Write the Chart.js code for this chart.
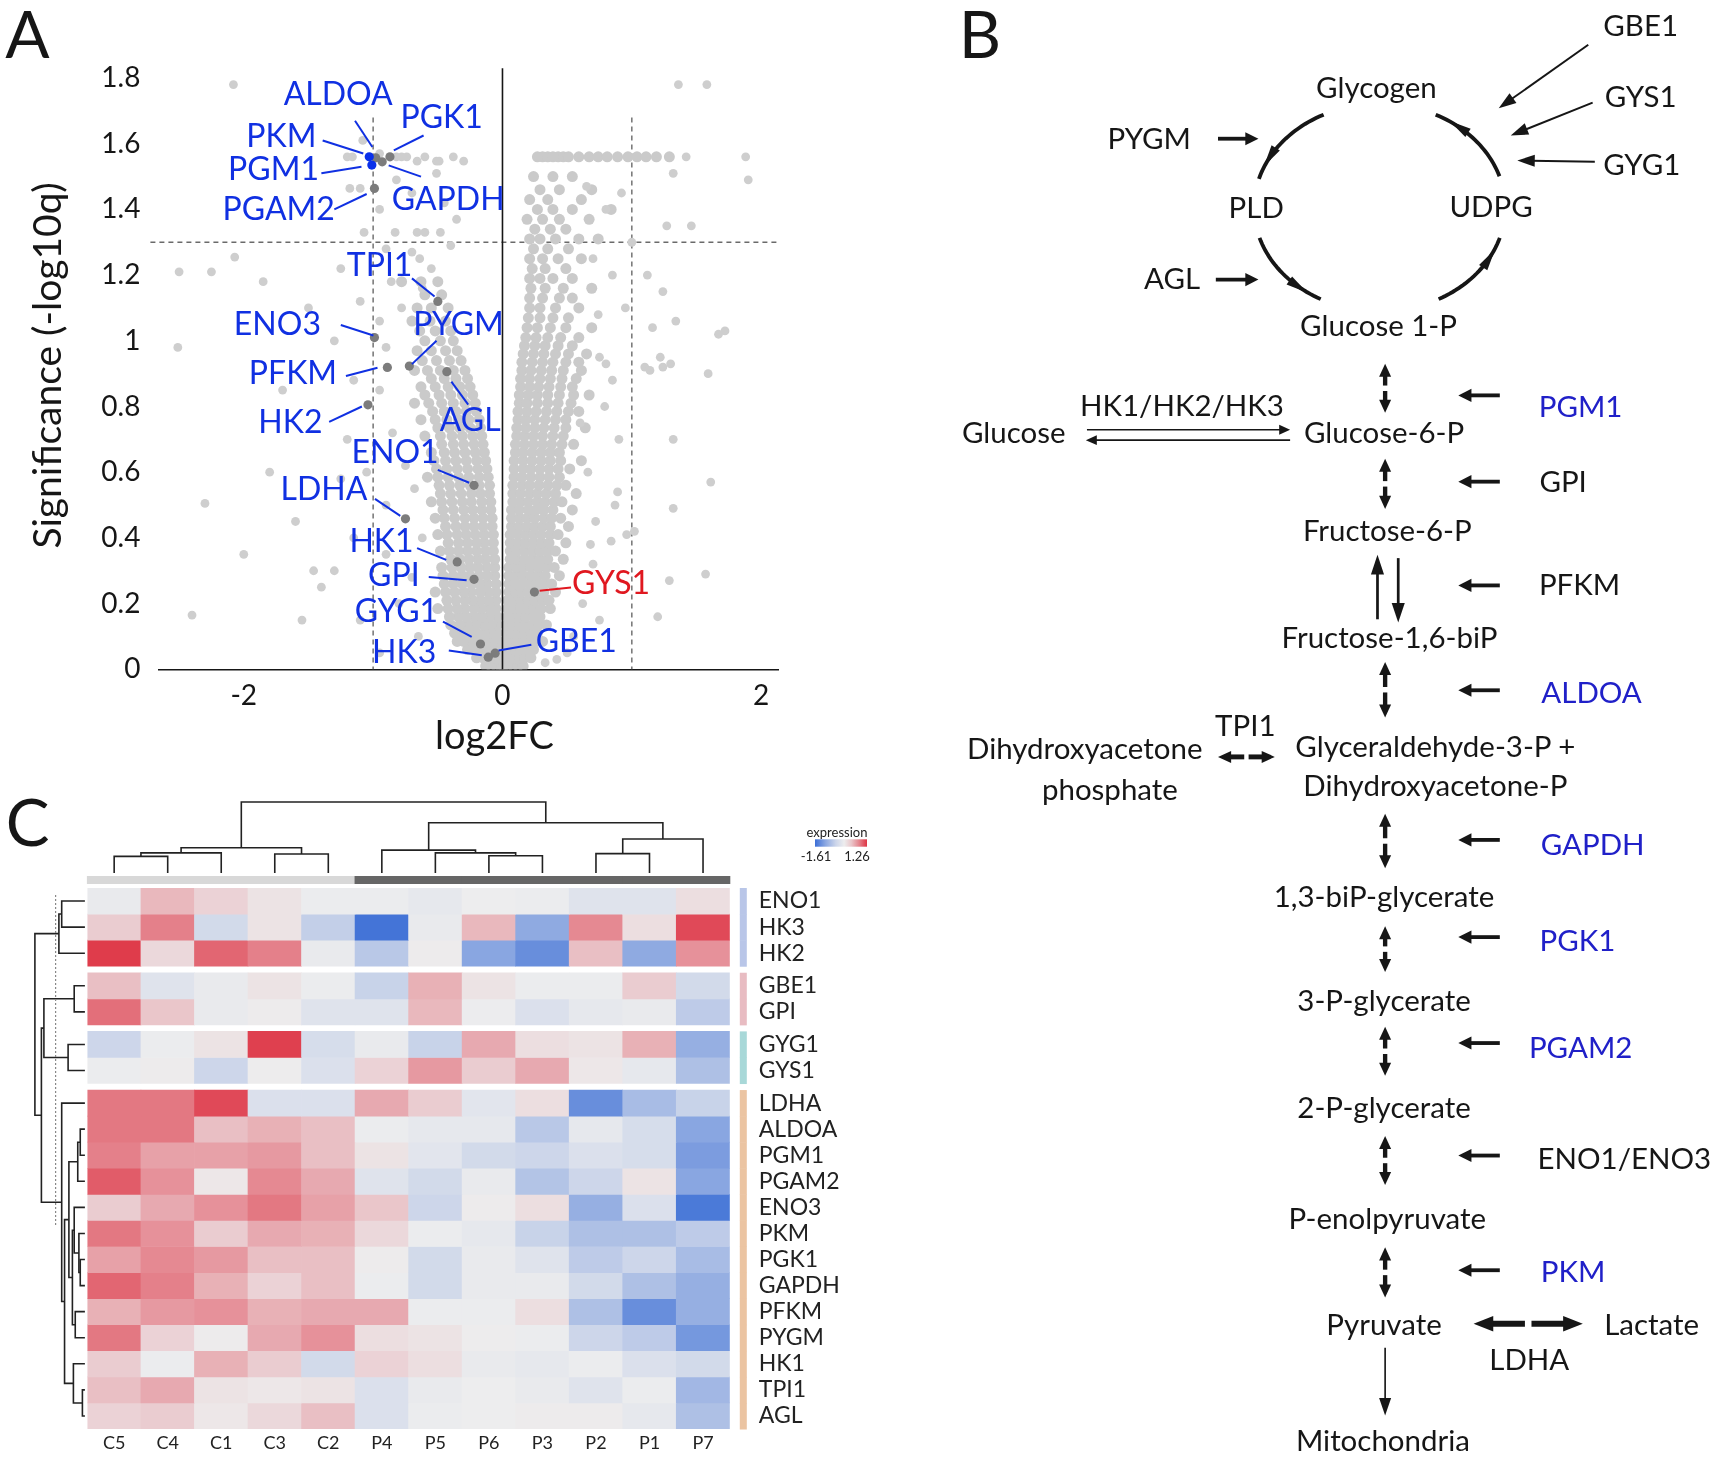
<!DOCTYPE html>
<html>
<head>
<meta charset="utf-8">
<script src="https://cdn.jsdelivr.net/npm/chart.js@4.4.0/dist/chart.umd.min.js"></script>
<style>
html, body { margin: 0; padding: 0; background: #fff; }
#page { position: relative; width: 1713px; height: 1457px; overflow: hidden; font-family: Lato, "Open Sans", sans-serif; }
canvas { position: absolute; }
#volcano { left: 0; top: 0; }
#heat { left: 0; top: 770px; }
#pathway { position: absolute; left: 0; top: 0; width: 1713px; height: 1457px; pointer-events: none; }
</style>
</head>
<body>
<div id="page">
  <canvas id="volcano" width="800" height="770"></canvas>
  <canvas id="heat" width="900" height="702"></canvas>
  <svg id="pathway" viewBox="0 0 1568 1334"></svg>
</div>
<script>
// ---------- A: volcano plot data ----------
const fcTicks = [-2, 0, 2];
const qTicks = [0, 0.2, 0.4, 0.6, 0.8, 1, 1.2, 1.4, 1.6, 1.8];
const fcCut = [-1, 1];
const qCut = 1.3;
const fcCutTop = 1.68;

// dense cloud, read row by row: [significance, [log2FC, ...]]
const leftArmRows = [
  [0.01, [-0.02, -0.05, -0.09, -0.13]],
  [0.035, [-0.02, -0.06, -0.1, -0.15, -0.2]],
  [0.06, [-0.03, -0.07, -0.12, -0.17, -0.22, -0.27]],
  [0.085, [-0.03, -0.08, -0.13, -0.18, -0.24, -0.3, -0.35]],
  [0.11, [-0.04, -0.09, -0.14, -0.2, -0.25, -0.31, -0.37]],
  [0.135, [-0.04, -0.09, -0.15, -0.21, -0.27, -0.33, -0.4]],
  [0.16, [-0.04, -0.1, -0.16, -0.22, -0.28, -0.34, -0.41]],
  [0.185, [-0.05, -0.1, -0.16, -0.22, -0.29, -0.35, -0.42, -0.5]],
  [0.21, [-0.05, -0.11, -0.17, -0.23, -0.29, -0.36, -0.43]],
  [0.235, [-0.05, -0.11, -0.17, -0.24, -0.3, -0.37, -0.44, -0.52]],
  [0.26, [-0.05, -0.12, -0.18, -0.24, -0.31, -0.38, -0.45]],
  [0.285, [-0.06, -0.12, -0.18, -0.25, -0.31, -0.38, -0.46]],
  [0.31, [-0.06, -0.12, -0.19, -0.25, -0.32, -0.39, -0.47]],
  [0.335, [-0.06, -0.13, -0.19, -0.26, -0.33, -0.4]],
  [0.36, [-0.07, -0.13, -0.2, -0.27, -0.34, -0.41, -0.48]],
  [0.385, [-0.07, -0.14, -0.2, -0.27, -0.34, -0.42]],
  [0.41, [-0.07, -0.14, -0.21, -0.28, -0.35, -0.43, -0.5]],
  [0.435, [-0.08, -0.15, -0.22, -0.29, -0.36, -0.44]],
  [0.46, [-0.08, -0.15, -0.22, -0.29, -0.37, -0.45, -0.52]],
  [0.485, [-0.09, -0.16, -0.23, -0.3, -0.38, -0.46]],
  [0.51, [-0.09, -0.16, -0.24, -0.31, -0.39, -0.47, -0.55]],
  [0.535, [-0.1, -0.17, -0.24, -0.32, -0.4, -0.48]],
  [0.56, [-0.1, -0.18, -0.25, -0.33, -0.41, -0.49]],
  [0.585, [-0.11, -0.18, -0.26, -0.34, -0.42, -0.5, -0.58]],
  [0.61, [-0.12, -0.19, -0.27, -0.35, -0.43, -0.51]],
  [0.635, [-0.13, -0.2, -0.28, -0.36, -0.44, -0.53]],
  [0.66, [-0.14, -0.21, -0.29, -0.37, -0.45, -0.55]],
  [0.685, [-0.15, -0.22, -0.3, -0.38, -0.47]],
  [0.71, [-0.16, -0.23, -0.31, -0.39, -0.48, -0.6]],
  [0.735, [-0.17, -0.25, -0.33, -0.41, -0.5]],
  [0.76, [-0.18, -0.26, -0.34, -0.43, -0.52, -0.63]],
  [0.785, [-0.2, -0.28, -0.36, -0.45, -0.54]],
  [0.81, [-0.21, -0.29, -0.38, -0.47, -0.57, -0.68]],
  [0.835, [-0.23, -0.31, -0.4, -0.49, -0.6]],
  [0.86, [-0.25, -0.33, -0.42, -0.52, -0.63]],
  [0.885, [-0.27, -0.36, -0.45, -0.55]],
  [0.91, [-0.29, -0.38, -0.48, -0.58, -0.68]],
  [0.94, [-0.32, -0.41, -0.51, -0.62]],
  [0.97, [-0.35, -0.44, -0.55, -0.66]],
  [1.0, [-0.38, -0.48, -0.6]],
  [1.03, [-0.4, -0.52, -0.64]],
  [1.06, [-0.44, -0.56, -0.7]],
  [1.1, [-0.42, -0.55, -0.66]],
  [1.14, [-0.47, -0.6]],
  [1.18, [-0.5, -0.63, -0.78]]
];
const rightArmRows = [
  [0.01, [0.01, 0.04, 0.08, 0.12, 0.16]],
  [0.035, [0.02, 0.05, 0.09, 0.13, 0.17, 0.22]],
  [0.06, [0.02, 0.06, 0.1, 0.14, 0.19, 0.24]],
  [0.085, [0.03, 0.07, 0.11, 0.16, 0.21, 0.26, 0.31]],
  [0.11, [0.03, 0.07, 0.12, 0.17, 0.22, 0.27]],
  [0.135, [0.03, 0.08, 0.13, 0.18, 0.23, 0.28, 0.34]],
  [0.16, [0.04, 0.08, 0.13, 0.18, 0.24, 0.29]],
  [0.185, [0.04, 0.09, 0.14, 0.19, 0.24, 0.3, 0.37]],
  [0.21, [0.04, 0.09, 0.14, 0.2, 0.25, 0.31, 0.36]],
  [0.235, [0.05, 0.1, 0.15, 0.2, 0.26, 0.32, 0.41]],
  [0.26, [0.05, 0.1, 0.15, 0.21, 0.27, 0.32, 0.38]],
  [0.285, [0.05, 0.1, 0.16, 0.22, 0.27, 0.33, 0.44]],
  [0.31, [0.05, 0.11, 0.16, 0.22, 0.28, 0.34, 0.4]],
  [0.335, [0.06, 0.11, 0.17, 0.23, 0.29, 0.35, 0.47]],
  [0.36, [0.06, 0.11, 0.17, 0.23, 0.29, 0.35, 0.41]],
  [0.385, [0.06, 0.12, 0.18, 0.24, 0.3, 0.36, 0.49]],
  [0.41, [0.06, 0.12, 0.18, 0.24, 0.3, 0.37, 0.43]],
  [0.435, [0.07, 0.13, 0.19, 0.25, 0.31, 0.37, 0.51]],
  [0.46, [0.07, 0.13, 0.19, 0.25, 0.32, 0.38, 0.45]],
  [0.485, [0.07, 0.13, 0.2, 0.26, 0.32, 0.39, 0.54]],
  [0.51, [0.08, 0.14, 0.2, 0.27, 0.33, 0.4, 0.46]],
  [0.535, [0.08, 0.14, 0.21, 0.27, 0.34, 0.41, 0.57]],
  [0.56, [0.08, 0.15, 0.21, 0.28, 0.35, 0.42, 0.49]],
  [0.585, [0.09, 0.15, 0.22, 0.29, 0.36, 0.44]],
  [0.61, [0.09, 0.16, 0.22, 0.29, 0.36, 0.43, 0.52]],
  [0.635, [0.09, 0.16, 0.23, 0.3, 0.37, 0.45, 0.61]],
  [0.66, [0.1, 0.16, 0.23, 0.3, 0.37, 0.44]],
  [0.685, [0.1, 0.17, 0.24, 0.31, 0.38, 0.46, 0.55]],
  [0.71, [0.11, 0.17, 0.24, 0.31, 0.39, 0.47]],
  [0.735, [0.11, 0.18, 0.25, 0.32, 0.4, 0.49, 0.64]],
  [0.76, [0.12, 0.18, 0.25, 0.33, 0.41, 0.49]],
  [0.785, [0.12, 0.19, 0.26, 0.34, 0.42, 0.51, 0.59]],
  [0.81, [0.13, 0.19, 0.27, 0.35, 0.43, 0.53]],
  [0.835, [0.13, 0.2, 0.27, 0.35, 0.44, 0.55, 0.67]],
  [0.86, [0.14, 0.21, 0.28, 0.36, 0.45, 0.54]],
  [0.885, [0.14, 0.21, 0.29, 0.37, 0.46, 0.57]],
  [0.91, [0.15, 0.22, 0.3, 0.38, 0.47, 0.61]],
  [0.935, [0.15, 0.23, 0.31, 0.39, 0.49, 0.59]],
  [0.96, [0.16, 0.24, 0.32, 0.41, 0.51, 0.65]],
  [0.985, [0.17, 0.25, 0.33, 0.43, 0.54]],
  [1.01, [0.18, 0.26, 0.35, 0.45, 0.59]],
  [1.04, [0.19, 0.27, 0.37, 0.49, 0.69]],
  [1.07, [0.2, 0.29, 0.39, 0.51]],
  [1.1, [0.21, 0.29, 0.41, 0.59]],
  [1.13, [0.21, 0.31, 0.44, 0.54]],
  [1.16, [0.22, 0.33, 0.47, 0.69]],
  [1.19, [0.21, 0.29, 0.39, 0.54]],
  [1.22, [0.23, 0.33, 0.49]],
  [1.25, [0.21, 0.31, 0.43, 0.61]],
  [1.28, [0.24, 0.35, 0.51]],
  [1.31, [0.21, 0.29, 0.41, 0.59, 0.74]],
  [1.34, [0.25, 0.37, 0.49]],
  [1.37, [0.19, 0.31, 0.44, 0.67]],
  [1.4, [0.27, 0.39, 0.54, 0.84]],
  [1.43, [0.21, 0.35, 0.61]],
  [1.46, [0.29, 0.44, 0.69]],
  [1.5, [0.24, 0.39, 0.54]],
  [1.56, [0.27, 0.31, 0.35, 0.39, 0.43, 0.47, 0.51, 0.59, 0.67, 0.74, 0.81, 0.89, 0.97, 1.04, 1.11, 1.19, 1.29]]
];
// scattered proteins outside the two arms: [log2FC, significance]
const sparsePts = [
  [1.36, 1.78], [1.58, 1.78], [-2.08, 1.78], [1.88, 1.56], [1.9, 1.49], [1.42, 1.56], [1.32, 1.51],
  [1.46, 1.35], [1.27, 1.35], [1.12, 1.2], [1.24, 1.15], [1.34, 1.06], [1.67, 1.02], [1.59, 0.9],
  [1.24, 0.92], [1.1, 0.92], [1.16, 1.04], [1.72, 1.03], [1.3, 0.93], [1.22, 0.95], [1.14, 0.91],
  [1.32, 0.7], [1.61, 0.57], [1.32, 0.49], [1.57, 0.29], [1.29, 0.27], [1.2, 0.16], [1.02, 0.42], [0.96, 0.41],
  [0.8, 0.93], [0.75, 0.95], [0.85, 0.88], [0.79, 0.8], [0.89, 0.54], [0.87, 0.5], [0.84, 0.39],
  [0.72, 0.45], [0.66, 0.6], [0.7, 0.32], [0.62, 0.2], [0.75, 0.15], [0.9, 0.7], [0.95, 1.1],
  [0.85, 1.2], [0.7, 1.25], [0.8, 1.4], [0.92, 1.45], [0.65, 1.47], [1.0, 1.3], [0.74, 1.08],
  [0.6, 0.75], [0.68, 0.38], [0.55, 0.1], [0.5, 0.05], [0.42, 0.03], [0.33, 0.02],
  [-1.2, 1.56], [-1.16, 1.56], [-1.08, 1.61], [-0.82, 1.56], [-0.78, 1.56], [-0.74, 1.56], [-0.66, 1.547],
  [-0.51, 1.547], [-0.49, 1.547], [-0.38, 1.56], [-0.3, 1.547], [-1.18, 1.464], [-1.1, 1.464],
  [-0.82, 1.49], [-0.51, 1.51], [-0.355, 1.37], [-1.07, 1.33], [-0.83, 1.33], [-0.66, 1.33],
  [-0.6, 1.33], [-0.48, 1.33], [-0.7, 1.27], [-0.64, 1.25], [-0.9, 1.28], [-0.4, 1.29], [-0.55, 1.22],
  [-0.86, 1.18], [-1.25, 1.22], [-0.62, 1.16], [-0.78, 1.1], [-1.1, 1.12], [-0.95, 1.06], [-1.3, 1.0],
  [-0.9, 0.98], [-1.15, 0.88], [-0.95, 0.85], [-1.2, 0.7], [-0.85, 0.72], [-1.05, 0.6], [-0.75, 0.62],
  [-1.15, 0.4], [-0.9, 0.35], [-1.3, 0.3], [-0.8, 0.2], [-1.1, 0.15], [-0.65, 0.1], [-0.95, 0.05],
  [-1.4, 0.25], [-0.7, 0.28], [-0.62, 0.4], [-0.68, 0.55], [-0.9, 0.5], [-1.25, 0.58],
  [-2.5, 1.21], [-2.25, 1.21], [-2.07, 1.255], [-1.85, 1.18], [-2.51, 0.98], [-2.3, 0.505],
  [-2.4, 0.165], [-1.46, 0.3], [-1.6, 0.45], [-1.7, 0.85], [-1.5, 1.1], [-1.8, 0.6], [-1.55, 0.15],
  [-2.0, 0.35], [-0.95, 1.57], [-0.6, 1.56], [-0.7, 1.45], [-0.45, 1.42], [-0.95, 1.4]
];

// labelled glycolysis / glycogen genes
const geneNames = ['ALDOA', 'PKM', 'PGM1', 'PGK1', 'GAPDH', 'PGAM2', 'TPI1', 'ENO3', 'PYGM', 'PFKM',
  'HK2', 'AGL', 'ENO1', 'LDHA', 'HK1', 'GPI', 'GYS1', 'GYG1', 'GBE1', 'HK3'];
const geneFC = [-0.98, -1.03, -1.01, -0.87, -0.93, -0.99, -0.5, -0.99, -0.72, -0.89,
  -1.04, -0.43, -0.22, -0.75, -0.35, -0.22, 0.247, -0.17, -0.057, -0.11];
const geneSig = [1.557, 1.56, 1.535, 1.56, 1.545, 1.464, 1.12, 1.01, 0.923, 0.919,
  0.805, 0.906, 0.56, 0.458, 0.327, 0.274, 0.235, 0.077, 0.049, 0.037];
const geneHighlight = ['PKM', 'PGM1'];
const geneLabelFC = [-1.27, -1.71, -1.77, -0.47, -0.42, -1.73, -0.95, -1.74, -0.34, -1.62,
  -1.64, -0.25, -0.83, -1.38, -0.935, -0.84, 0.84, -0.82, 0.57, -0.76];
const geneLabelSig = [1.75, 1.62, 1.52, 1.68, 1.43, 1.40, 1.23, 1.05, 1.05, 0.90,
  0.75, 0.757, 0.66, 0.547, 0.389, 0.285, 0.26, 0.176, 0.085, 0.05];
const leaderFrom = [[-1.14, 1.67], [-1.39, 1.61], [-1.40, 1.51], [-0.61, 1.625], [-0.63, 1.50], [-1.30, 1.40],
  [-0.70, 1.19], [-1.25, 1.048], [-0.51, 1.0], [-1.21, 0.893], [-1.34, 0.753], [-0.265, 0.806],
  [-0.50, 0.607], [-0.986, 0.519], [-0.66, 0.369], [-0.57, 0.281], [0.53, 0.249], [-0.46, 0.145],
  [0.223, 0.075], [-0.415, 0.057]];
const leaderTo = [[-1.006, 1.59], [-1.076, 1.57], [-1.09, 1.53], [-0.84, 1.58], [-0.88, 1.534], [-1.05, 1.447],
  [-0.525, 1.135], [-0.998, 1.016], [-0.70, 0.929], [-0.966, 0.918], [-1.087, 0.80], [-0.395, 0.876],
  [-0.257, 0.568], [-0.79, 0.467], [-0.435, 0.333], [-0.277, 0.271], [0.287, 0.239], [-0.238, 0.099],
  [-0.03, 0.057], [-0.16, 0.043]];
const upGenes = ['GYS1'];

// ---------- C: heatmap data ----------
const colNames = ['C5', 'C4', 'C1', 'C3', 'C2', 'P4', 'P5', 'P6', 'P3', 'P2', 'P1', 'P7'];
const colGroup = ['C', 'C', 'C', 'C', 'C', 'P', 'P', 'P', 'P', 'P', 'P', 'P'];
const rowNames = ['ENO1', 'HK3', 'HK2', 'GBE1', 'GPI', 'GYG1', 'GYS1', 'LDHA', 'ALDOA', 'PGM1',
  'PGAM2', 'ENO3', 'PKM', 'PGK1', 'GAPDH', 'PFKM', 'PYGM', 'HK1', 'TPI1', 'AGL'];
const rowGroup = [0, 0, 0, 1, 1, 2, 2, 3, 3, 3, 3, 3, 3, 3, 3, 3, 3, 3, 3, 3];
const expression = [
  [-0.1, 0.5, 0.3, 0.15, -0.05, -0.05, -0.15, -0.02, -0.05, -0.25, -0.25, 0.2],
  [0.35, 0.85, -0.4, 0.15, -0.55, -1.55, -0.1, 0.5, -1.0, 0.8, 0.2, 1.15],
  [1.22, 0.25, 1.0, 0.85, -0.1, -0.65, 0.05, -1.05, -1.3, 0.45, -1.0, 0.75],
  [0.45, -0.25, -0.1, 0.15, -0.05, -0.5, 0.55, 0.15, -0.05, -0.05, 0.35, -0.4],
  [0.95, 0.4, -0.1, 0.05, -0.25, -0.25, 0.5, -0.03, -0.3, -0.15, -0.1, -0.6],
  [-0.45, -0.05, 0.15, 1.2, -0.35, -0.1, -0.5, 0.6, 0.2, 0.15, 0.55, -0.95],
  [-0.05, 0.05, -0.45, 0.02, -0.3, 0.3, 0.7, 0.35, 0.6, 0.1, -0.15, -0.75],
  [0.9, 0.9, 1.15, -0.3, -0.3, 0.6, 0.35, -0.2, 0.2, -1.3, -0.8, -0.5],
  [0.9, 0.9, 0.45, 0.55, 0.45, -0.05, -0.15, -0.15, -0.65, -0.15, -0.35, -1.05],
  [0.85, 0.65, 0.65, 0.7, 0.45, 0.15, -0.2, -0.4, -0.45, -0.3, -0.35, -1.15],
  [1.05, 0.75, 0.1, 0.8, 0.6, -0.25, -0.4, -0.1, -0.7, -0.45, 0.15, -1.05],
  [0.35, 0.6, 0.75, 0.9, 0.65, 0.4, -0.45, 0.05, 0.2, -0.95, -0.3, -1.5],
  [0.9, 0.75, 0.35, 0.6, 0.55, 0.25, -0.05, -0.15, -0.5, -0.75, -0.75, -0.6],
  [0.65, 0.8, 0.7, 0.45, 0.45, 0.05, -0.4, -0.1, -0.25, -0.6, -0.45, -0.8],
  [1.0, 0.85, 0.55, 0.3, 0.45, -0.05, -0.4, -0.1, -0.1, -0.4, -0.75, -0.95],
  [0.55, 0.7, 0.75, 0.55, 0.6, 0.6, -0.05, -0.05, 0.2, -0.75, -1.3, -0.95],
  [0.9, 0.3, 0.05, 0.6, 0.75, 0.2, 0.15, 0.02, -0.05, -0.45, -0.6, -1.2],
  [0.35, -0.05, 0.55, 0.35, -0.4, 0.3, 0.2, -0.1, -0.15, -0.05, -0.3, -0.4],
  [0.45, 0.6, 0.15, 0.1, 0.15, -0.3, -0.1, 0.0, -0.1, -0.25, -0.05, -0.85],
  [0.3, 0.35, 0.1, 0.25, 0.45, -0.3, -0.05, 0.0, 0.05, 0.05, -0.15, -0.75]
];
const exprMin = -1.61, exprMax = 1.26;
// dendrograms: [height, left, right], leaves are column / row indices
const colTree = [1.0, [0.356, [0.283, [0.234, 0, 1], 2], [0.268, 3, 4]],
  [0.707, [0.322, 5, [0.283, 6, [0.244, 7, 8]]], [0.478, [0.273, 9, 10], 11]]];
const rowTree = [1.0, [0.52, [0.464, 0, 1], 2],
  [0.87, [0.82, [0.214, 3, 4], [0.336, 5, 6]],
    [0.464, 7, [0.407, [0.32, [0.143, [0.093, 8, 9], 10],
      [0.25, [0.214, 11, [0.12, 12, [0.093, 13, 14]]], [0.193, 15, 16]]],
      [0.23, 17, [0.05, 18, 19]]]]]];
const rowCutHeight = 0.586;

// ---------- styles ----------
const FONT = 'Lato, "Open Sans", sans-serif';
const INK = '#161616';
const LABEL_BLUE = '#1030e2';
const LABEL_RED = '#e01820';
const PATH_BLUE = '#2020c8';

// ---------- A: volcano ----------
const armPts = [...leftArmRows, ...rightArmRows].flatMap(([y, xs]) => xs.map(x => ({ x, y })));
const loosePts = sparsePts.map(([x, y]) => ({ x, y }));
const genePts = geneNames.map((g, i) => ({ x: geneFC[i], y: geneSig[i], g }));

const volcanoMarks = {
  id: 'volcanoMarks',
  beforeDatasetsDraw(chart) {
    const { ctx, scales: { x, y } } = chart;
    ctx.save();
    ctx.strokeStyle = '#6a6a6a';
    ctx.lineWidth = 1.4;
    ctx.setLineDash([5, 4]);
    ctx.beginPath();
    ctx.moveTo(x.left - 8, y.getPixelForValue(qCut));
    ctx.lineTo(x.right, y.getPixelForValue(qCut));
    fcCut.forEach(v => {
      ctx.moveTo(x.getPixelForValue(v), y.getPixelForValue(fcCutTop));
      ctx.lineTo(x.getPixelForValue(v), y.getPixelForValue(0));
    });
    ctx.stroke();
    ctx.restore();
  },
  afterDatasetsDraw(chart) {
    const { ctx, scales: { x, y } } = chart;
    ctx.save();
    // zero line
    ctx.strokeStyle = INK;
    ctx.lineWidth = 1.6;
    ctx.beginPath();
    ctx.moveTo(x.getPixelForValue(0), y.getPixelForValue(0));
    ctx.lineTo(x.getPixelForValue(0), y.getPixelForValue(1.83));
    ctx.stroke();
    // leaders and names
    ctx.font = '32px ' + FONT;
    ctx.textAlign = 'center';
    ctx.textBaseline = 'middle';
    ctx.lineWidth = 2;
    geneNames.forEach((g, i) => {
      const col = upGenes.includes(g) ? LABEL_RED : LABEL_BLUE;
      ctx.strokeStyle = col;
      ctx.beginPath();
      ctx.moveTo(x.getPixelForValue(leaderFrom[i][0]), y.getPixelForValue(leaderFrom[i][1]));
      ctx.lineTo(x.getPixelForValue(leaderTo[i][0]), y.getPixelForValue(leaderTo[i][1]));
      ctx.stroke();
      ctx.fillStyle = col;
      ctx.fillText(g, x.getPixelForValue(geneLabelFC[i]), y.getPixelForValue(geneLabelSig[i]));
    });
    // x title, centred under the zero line as in the figure
    ctx.fillStyle = INK;
    ctx.font = '38px ' + FONT;
    ctx.fillText('log2FC', x.getPixelForValue(0) - 8, 737);
    ctx.restore();
  }
};

new Chart(document.getElementById('volcano'), {
  type: 'scatter',
  data: {
    datasets: [
      {
        data: genePts,
        pointRadius: 4.6,
        pointBackgroundColor: genePts.map(p => geneHighlight.includes(p.g) ? '#0a30ea' : '#7c7c7c'),
        pointBorderWidth: 0
      },
      {
        data: loosePts,
        pointRadius: 4.4,
        pointBackgroundColor: 'rgb(206,206,206)',
        pointBorderWidth: 0
      },
      {
        data: armPts,
        pointRadius: 5.5,
        pointBackgroundColor: 'rgb(202,202,202)',
        pointBorderWidth: 0
      }
    ]
  },
  options: {
    responsive: false,
    animation: false,
    devicePixelRatio: 1,
    layout: { padding: { top: 61.6, right: 22, left: 0, bottom: 0 } },
    plugins: { legend: { display: false }, tooltip: { enabled: false } },
    scales: {
      x: {
        type: 'linear', min: -2.66, max: 2.13,
        grid: { display: false, drawTicks: false },
        border: { display: true, color: INK, width: 1.6 },
        ticks: { font: { family: FONT, size: 28 }, color: INK, padding: 10 },
        afterBuildTicks: s => { s.ticks = fcTicks.map(v => ({ value: v })); },
        afterFit: s => { s.height = 100.7; }
      },
      y: {
        type: 'linear', min: 0, max: 1.85,
        grid: { display: false, drawTicks: false },
        border: { display: false },
        ticks: { font: { family: FONT, size: 28 }, color: INK, padding: 18, callback: v => String(+v.toFixed(1)) },
        afterBuildTicks: s => { s.ticks = qTicks.map(v => ({ value: v })); },
        afterFit: s => { s.width = 158.4; },
        title: { display: true, text: 'Significance (-log10q)', color: INK, font: { family: FONT, size: 39 }, padding: { top: 25, bottom: 0 } }
      }
    }
  },
  plugins: [volcanoMarks]
});

// ---------- C: heatmap ----------
const groupGap = 0.25;
const rowTop = rowNames.map((r, i) => i + rowGroup[i] * groupGap);
const rowCenter = rowTop.map(t => t + 0.5);
const rowSpan = rowNames.length + groupGap * (Math.max(...rowGroup));
const lowRGB = [59, 110, 214], midRGB = [237, 237, 238], highRGB = [222, 52, 68];
function colorFor(v) {
  const end = v < 0 ? lowRGB : highRGB;
  const t = Math.pow(Math.min(1, v < 0 ? v / exprMin : v / exprMax), 1.35);
  const c = midRGB.map((m, k) => Math.round(m + (end[k] - m) * t));
  return 'rgb(' + c.join(',') + ')';
}
const groupBarColors = { C: '#d8d8d8', P: '#666666' };
const rowGroupColors = ['#b9c6e8', '#e8bcc2', '#a8d8d8', '#ebc4a2'];

const heatMarks = {
  id: 'heatMarks',
  afterDatasetsDraw(chart) {
    const { ctx, scales: { x, y }, chartArea: a } = chart;
    const colW = x.getPixelForValue(1) - x.getPixelForValue(0);
    ctx.save();
    // column annotation bar
    colGroup.forEach((g, i) => {
      ctx.fillStyle = groupBarColors[g];
      ctx.fillRect(x.getPixelForValue(i) - colW / 2 - 0.5, 106, colW + 1, 8);
    });
    // row annotation bar
    rowNames.forEach((r, i) => {
      ctx.fillStyle = rowGroupColors[rowGroup[i]];
      const t = y.getPixelForValue(rowTop[i]), b = y.getPixelForValue(rowTop[i] + 1);
      ctx.fillRect(a.right + 10, t, 7, b - t + 0.5);
    });
    // dendrograms
    ctx.strokeStyle = '#222';
    ctx.lineWidth = 1.6;
    const topBase = 103, topH = 71;
    const drawTop = node => {
      if (typeof node === 'number') return [x.getPixelForValue(node), topBase];
      const [h, l, r] = node;
      const p = drawTop(l), q = drawTop(r), yy = topBase - h * topH;
      ctx.beginPath();
      ctx.moveTo(p[0], p[1]); ctx.lineTo(p[0], yy); ctx.lineTo(q[0], yy); ctx.lineTo(q[0], q[1]);
      ctx.stroke();
      return [(p[0] + q[0]) / 2, yy];
    };
    drawTop(colTree);
    const leftBase = a.left - 2.5, leftW = 50;
    const drawLeft = node => {
      if (typeof node === 'number') return [leftBase, y.getPixelForValue(rowCenter[node])];
      const [h, l, r] = node;
      const p = drawLeft(l), q = drawLeft(r), xx = leftBase - h * leftW;
      ctx.beginPath();
      ctx.moveTo(p[0], p[1]); ctx.lineTo(xx, p[1]); ctx.lineTo(xx, q[1]); ctx.lineTo(q[0], q[1]);
      ctx.stroke();
      return [xx, (p[1] + q[1]) / 2];
    };
    drawLeft(rowTree);
    // cut line
    ctx.strokeStyle = '#888';
    ctx.lineWidth = 1.2;
    ctx.setLineDash([2, 2]);
    ctx.beginPath();
    const cx = leftBase - rowCutHeight * leftW;
    ctx.moveTo(cx, y.getPixelForValue(rowCenter[0]) - 6);
    ctx.lineTo(cx, y.getPixelForValue(rowCenter[11]) + 18);
    ctx.stroke();
    ctx.setLineDash([]);
    // colour key
    const g = ctx.createLinearGradient(815, 0, 867, 0);
    [0, 0.2, 0.4, 0.561, 0.7, 0.85, 1].forEach(f => {
      g.addColorStop(f, colorFor(exprMin + f * (exprMax - exprMin)));
    });
    ctx.fillStyle = g;
    ctx.fillRect(815, 69.3, 52, 7.4);
    ctx.fillStyle = '#222';
    ctx.font = '13px ' + FONT;
    ctx.textAlign = 'center';
    ctx.textBaseline = 'middle';
    ctx.fillText('expression', 837, 62.5);
    ctx.fillText(String(exprMin), 816, 86.5);
    ctx.fillText(String(exprMax), 857, 86.5);
    ctx.restore();
  }
};

new Chart(document.getElementById('heat'), {
  type: 'bar',
  data: {
    labels: colNames,
    datasets: rowNames.map((r, i) => ({
      label: r,
      data: colNames.map(() => [rowTop[i], rowTop[i] + 1]),
      backgroundColor: expression[i].map(colorFor),
      borderWidth: 0,
      grouped: false,
      barPercentage: 1,
      categoryPercentage: 1
    }))
  },
  options: {
    responsive: false,
    animation: false,
    devicePixelRatio: 1,
    layout: { padding: { left: 87.4, top: 118, right: 0, bottom: 0 } },
    plugins: { legend: { display: false }, tooltip: { enabled: false } },
    scales: {
      x: {
        type: 'category', offset: true,
        grid: { display: false, drawTicks: false },
        border: { display: false },
        ticks: { font: { family: FONT, size: 18 }, color: '#222', padding: 3 },
        afterFit: s => { s.height = 43; }
      },
      y: {
        type: 'linear', position: 'right', reverse: true, min: 0, max: rowSpan,
        grid: { display: false, drawTicks: false },
        border: { display: false },
        ticks: { font: { family: FONT, size: 23 }, color: '#222', padding: 29, autoSkip: false, callback: (v, i) => rowNames[i] },
        afterBuildTicks: s => { s.ticks = rowCenter.map(v => ({ value: v })); },
        afterFit: s => { s.width = 170.2; }
      }
    }
  },
  plugins: [heatMarks]
});

// ---------- B: pathway diagram (svg, in 1568x1334 view units) ----------
const svg = document.getElementById('pathway');
const NS = 'http://www.w3.org/2000/svg';
function add(tag, attrs) {
  const e = document.createElementNS(NS, tag);
  for (const k in attrs) e.setAttribute(k, attrs[k]);
  svg.appendChild(e);
  return e;
}
function word(x, y, s, fill, size) {
  const t = add('text', { x, y, 'text-anchor': 'middle', 'dominant-baseline': 'central',
    fill: fill || INK, 'font-size': size || 27, 'font-family': FONT });
  t.textContent = s;
}
function head(tx, ty, ux, uy, len, half) {
  const bx = tx - ux * len, by = ty - uy * len;
  add('polygon', { points: `${tx},${ty} ${bx - uy * half},${by + ux * half} ${bx + uy * half},${by - ux * half}`, fill: INK });
}
function arrow(x1, y1, x2, y2, w, len, half) {
  const dx = x2 - x1, dy = y2 - y1, L = Math.hypot(dx, dy), ux = dx / L, uy = dy / L;
  add('line', { x1, y1, x2: x2 - ux * len * 0.8, y2: y2 - uy * len * 0.8, stroke: INK, 'stroke-width': w });
  head(x2, y2, ux, uy, len, half);
}
function twoWay(x1, y1, x2, y2, w, len, half, gap) {
  const mx = (x1 + x2) / 2, my = (y1 + y2) / 2, dx = x2 - x1, dy = y2 - y1, L = Math.hypot(dx, dy);
  const ux = dx / L, uy = dy / L;
  arrow(mx - ux * gap / 2, my - uy * gap / 2, x1, y1, w, len, half);
  arrow(mx + ux * gap / 2, my + uy * gap / 2, x2, y2, w, len, half);
}

// panel letters
word(25, 30, 'A', INK, 60);
word(897, 30, 'B', INK, 60);
word(25, 751, 'C', INK, 60);

const pathwayWords = [
  ['Glycogen', 1260, 79], ['GBE1', 1502, 22], ['GYS1', 1502, 87], ['GYG1', 1503, 150],
  ['PYGM', 1052, 126], ['PLD', 1150, 189], ['UDPG', 1365, 188], ['AGL', 1073, 254], ['Glucose 1-P', 1262, 297],
  ['PGM1', 1447, 371, PATH_BLUE], ['Glucose', 928, 395], ['HK1/HK2/HK3', 1082, 370], ['Glucose-6-P', 1267, 395],
  ['GPI', 1431, 440], ['Fructose-6-P', 1270, 485], ['PFKM', 1446, 534], ['Fructose-1,6-biP', 1272, 583],
  ['ALDOA', 1457, 633, PATH_BLUE], ['TPI1', 1140, 663], ['Dihydroxyacetone', 993, 684], ['phosphate', 1016, 722],
  ['Glyceraldehyde-3-P +', 1314, 683], ['Dihydroxyacetone-P', 1314, 718], ['GAPDH', 1458, 772, PATH_BLUE],
  ['1,3-biP-glycerate', 1267, 820], ['PGK1', 1444, 860, PATH_BLUE], ['3-P-glycerate', 1267, 915],
  ['PGAM2', 1447, 958, PATH_BLUE], ['2-P-glycerate', 1267, 1013], ['ENO1/ENO3', 1487, 1060],
  ['P-enolpyruvate', 1270, 1115], ['PKM', 1440, 1163, PATH_BLUE], ['Pyruvate', 1267, 1212],
  ['Lactate', 1512, 1212], ['LDHA', 1400, 1244], ['Mitochondria', 1266, 1318]
];
pathwayWords.forEach(([s, x, y, c]) => word(x, y, s, c));

// glycogen cycle
const cyc = { cx: 1263, cy: 190, rx: 115, ry: 95 };
const cycleArcs = [[243.5, 196], [163, 118], [62, 17], [-17.5, -63.5]];
cycleArcs.forEach(([a0, a1]) => {
  const pts = [];
  for (let k = 0; k <= 24; k++) {
    const t = (a0 + (a1 - a0) * k / 24) * Math.PI / 180;
    pts.push(`${cyc.cx + cyc.rx * Math.cos(t)},${cyc.cy + cyc.ry * Math.sin(t)}`);
  }
  add('polyline', { points: pts.join(' '), fill: 'none', stroke: INK, 'stroke-width': 3.5 });
  const tm = (a0 + (a1 - a0) * 0.75) * Math.PI / 180, s = Math.sign(a1 - a0);
  let ux = -cyc.rx * Math.sin(tm) * s, uy = cyc.ry * Math.cos(tm) * s;
  const L = Math.hypot(ux, uy); ux /= L; uy /= L;
  head(cyc.cx + cyc.rx * Math.cos(tm) + ux * 8, cyc.cy + cyc.ry * Math.sin(tm) + uy * 8, ux, uy, 20, 4.5);
});
arrow(1115, 127, 1152, 127, 3.5, 12, 6);
arrow(1113, 256, 1152, 256, 3.5, 12, 6);
arrow(1454, 41, 1372, 99, 1.8, 16, 5.5);
arrow(1458, 94, 1383, 124, 1.8, 16, 5.5);
arrow(1460, 148, 1389, 147, 1.8, 16, 5.5);

// enzyme arrows pointing at the main chain
const enzymeArrowY = [362, 441, 536, 632, 769, 858, 955, 1058, 1163];
enzymeArrowY.forEach(y => arrow(1373, y, 1335, y, 3.5, 12, 6));

// reversible steps of the main chain
const reversibleSteps = [[333, 378], [420, 466], [606, 657], [745, 795], [848, 890], [940, 985], [1040, 1085], [1142, 1188]];
reversibleSteps.forEach(([y1, y2]) => twoWay(1268, y1, 1268, y2, 4, 12, 5.5, 5));

// hexokinase
arrow(995, 393.5, 1181, 393.5, 1.5, 10, 4.5);
arrow(1181, 403, 994, 403, 1.5, 10, 4.5);
// PFKM
arrow(1261, 567, 1261, 508, 2.5, 18, 6);
arrow(1280, 511, 1280, 570, 2.5, 18, 6);
// TPI1
twoWay(1115, 693, 1167, 693, 4.5, 12, 5.5, 4);
// LDHA
twoWay(1349, 1212, 1449, 1212, 5.5, 18, 7, 6);
// to mitochondria
arrow(1268, 1234, 1268, 1296, 1.5, 16, 5.5);
</script>
</body>
</html>
